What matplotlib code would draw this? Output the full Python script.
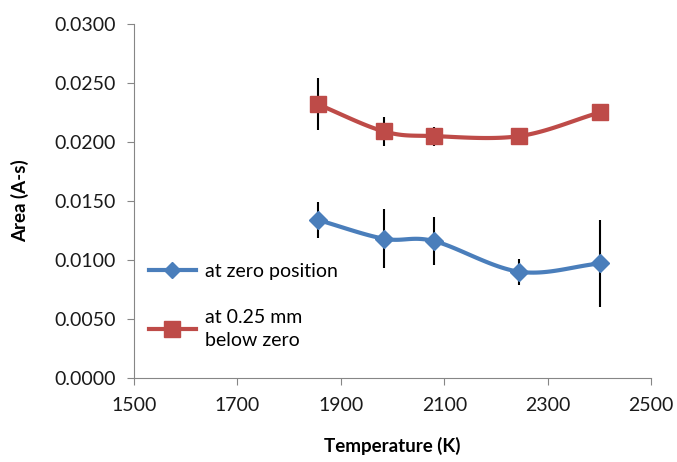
import numpy as np
import matplotlib.pyplot as plt
from matplotlib.lines import Line2D

plt.rcParams['font.family'] = ['Lato', 'DejaVu Sans']

temps = [1855, 1983, 2080, 2245, 2400]
area_zero = [0.0134, 0.0118, 0.0116, 0.0090, 0.0097]
err_zero = [0.0015, 0.0025, 0.0020, 0.0011, 0.0037]
area_below = [0.0232, 0.0209, 0.0205, 0.0205, 0.0225]
err_below = [0.0022, 0.0012, 0.0008, 0.0005, 0.0]

blue = '#4A7EBB'
red = '#BE4B48'
axis_grey = '#868686'


def smooth(x, y, n=30):
    # catmull-rom through the points, like excel's smoothed line
    x = np.asarray(x, float)
    y = np.asarray(y, float)
    px = np.concatenate([[2 * x[0] - x[1]], x, [2 * x[-1] - x[-2]]])
    py = np.concatenate([[2 * y[0] - y[1]], y, [2 * y[-1] - y[-2]]])
    xs, ys = [], []
    t = np.linspace(0, 1, n)
    for i in range(1, len(px) - 2):
        for p, out in ((px, xs), (py, ys)):
            p0, p1, p2, p3 = p[i - 1], p[i], p[i + 1], p[i + 2]
            out.extend(0.5 * ((2 * p1) + (-p0 + p2) * t +
                              (2 * p0 - 5 * p1 + 4 * p2 - p3) * t ** 2 +
                              (-p0 + 3 * p1 - 3 * p2 + p3) * t ** 3))
    return xs, ys


fig = plt.figure(figsize=(6.77, 4.62), dpi=100)
ax = fig.add_axes([0.198, 0.182, 0.764, 0.766])

for y, e, c, m, ms in ((area_zero, err_zero, blue, 'D', 9),
                       (area_below, err_below, red, 's', 12)):
    ax.errorbar(temps, y, yerr=e, fmt='none', ecolor='black', elinewidth=1.5,
                capsize=0, zorder=2)
    sx, sy = smooth(temps, y)
    ax.plot(sx, sy, color=c, lw=3, zorder=3, solid_capstyle='round')
    ax.plot(temps, y, ls='none', marker=m, ms=ms, color=c, zorder=4)

ax.set_xlim(1500, 2500)
ax.set_ylim(0, 0.03)
ax.set_xticks(range(1500, 2501, 200))
ax.set_yticks(np.arange(0, 0.0301, 0.005))
ax.yaxis.set_major_formatter(plt.FuncFormatter(lambda v, p: f'{v:.4f}'))

for s in ('top', 'right'):
    ax.spines[s].set_visible(False)
for s in ('left', 'bottom'):
    ax.spines[s].set_color(axis_grey)
ax.tick_params(colors=axis_grey, labelcolor='#1a1a1a', labelsize=14,
               length=5, direction='out')
ax.tick_params(axis='x', pad=9)
ax.tick_params(axis='y', pad=8)

ax.set_xlabel('Temperature (K)', fontsize=13.5, fontweight='bold', labelpad=16)
ax.set_ylabel('Area (A-s)', fontsize=13.5, fontweight='bold', labelpad=18)

handles = [Line2D([], [], color=blue, lw=3, marker='D', ms=8),
           Line2D([], [], color=red, lw=3, marker='s', ms=11)]
leg = ax.legend(handles, ['at zero position', 'at 0.25 mm\nbelow zero'],
                loc='upper left', bbox_to_anchor=(-0.005, 0.375), frameon=False,
                fontsize=14, handlelength=2.4, labelspacing=1.5,
                handletextpad=0.5)
for t in leg.get_texts():
    t.set_linespacing(1.45)

fig.savefig('out.png', dpi=100)
